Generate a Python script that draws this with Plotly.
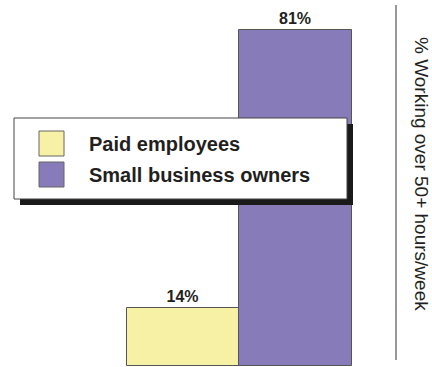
import plotly.graph_objects as go

# Share of each group working more than 50 hours a week
groups = ["Paid employees", "Small business owners"]
shares = [14, 81]
colors = ["#F7F1A6", "#877BB9"]
axis_title = "% Working over 50+ hours/week"

W, H = 432, 367
PLOT_H = 366  # plot area height (bottom margin of 1px)
FONT = "Arial, Liberation Sans, Helvetica, sans-serif"
INK = "#231f20"


def px_x(px):
    return px / W


def px_y(py):
    return (PLOT_H - py) / PLOT_H


fig = go.Figure(
    go.Bar(
        x=list(range(len(groups))),
        y=shares,
        width=1.0,
        marker=dict(color=colors, line=dict(color="#555555", width=1)),
        text=[f"{v}%" for v in shares],
        textposition="outside",
        textfont=dict(family=FONT, size=16, color=INK, weight="bold"),
        cliponaxis=False,
        showlegend=False,
    )
)

shapes = []
annotations = []

# Legend panel with drop shadow
shapes.append(dict(type="rect", xref="paper", yref="paper",
                   x0=px_x(20), x1=px_x(353), y0=px_y(124), y1=px_y(205),
                   fillcolor="#1a1a1a", line=dict(width=0), layer="above"))
shapes.append(dict(type="rect", xref="paper", yref="paper",
                   x0=px_x(14), x1=px_x(347), y0=px_y(118), y1=px_y(199),
                   fillcolor="white", line=dict(color="#444444", width=1), layer="above"))

row_tops = [131, 162]
for name, col, top in zip(groups, colors, row_tops):
    shapes.append(dict(type="rect", xref="paper", yref="paper",
                       x0=px_x(39), x1=px_x(64), y0=px_y(top), y1=px_y(top + 25),
                       fillcolor=col, line=dict(color="#666666", width=1), layer="above"))
    annotations.append(dict(xref="paper", yref="paper", x=px_x(87), y=px_y(top + 12.5),
                            xanchor="left", yanchor="middle", showarrow=False,
                            text=name,
                            font=dict(family=FONT, size=20, color=INK, weight="bold")))

# Right-hand divider and axis caption
shapes.append(dict(type="line", xref="paper", yref="paper",
                   x0=px_x(396), x1=px_x(396), y0=px_y(5), y1=px_y(360),
                   line=dict(color="#333333", width=1)))
annotations.append(dict(xref="paper", yref="paper", x=px_x(422), y=px_y(174),
                        xanchor="center", yanchor="middle", showarrow=False,
                        text=axis_title, textangle=90,
                        font=dict(family=FONT, size=19, color=INK)))

fig.update_layout(
    width=W, height=H,
    margin=dict(l=0, r=0, t=0, b=1),
    paper_bgcolor="white", plot_bgcolor="white",
    xaxis=dict(range=[-1.627, 2.213], visible=False),
    yaxis=dict(range=[0, 88.24], visible=False),
    shapes=shapes,
    annotations=annotations,
    bargap=0,
)

fig.write_html("out.html")
